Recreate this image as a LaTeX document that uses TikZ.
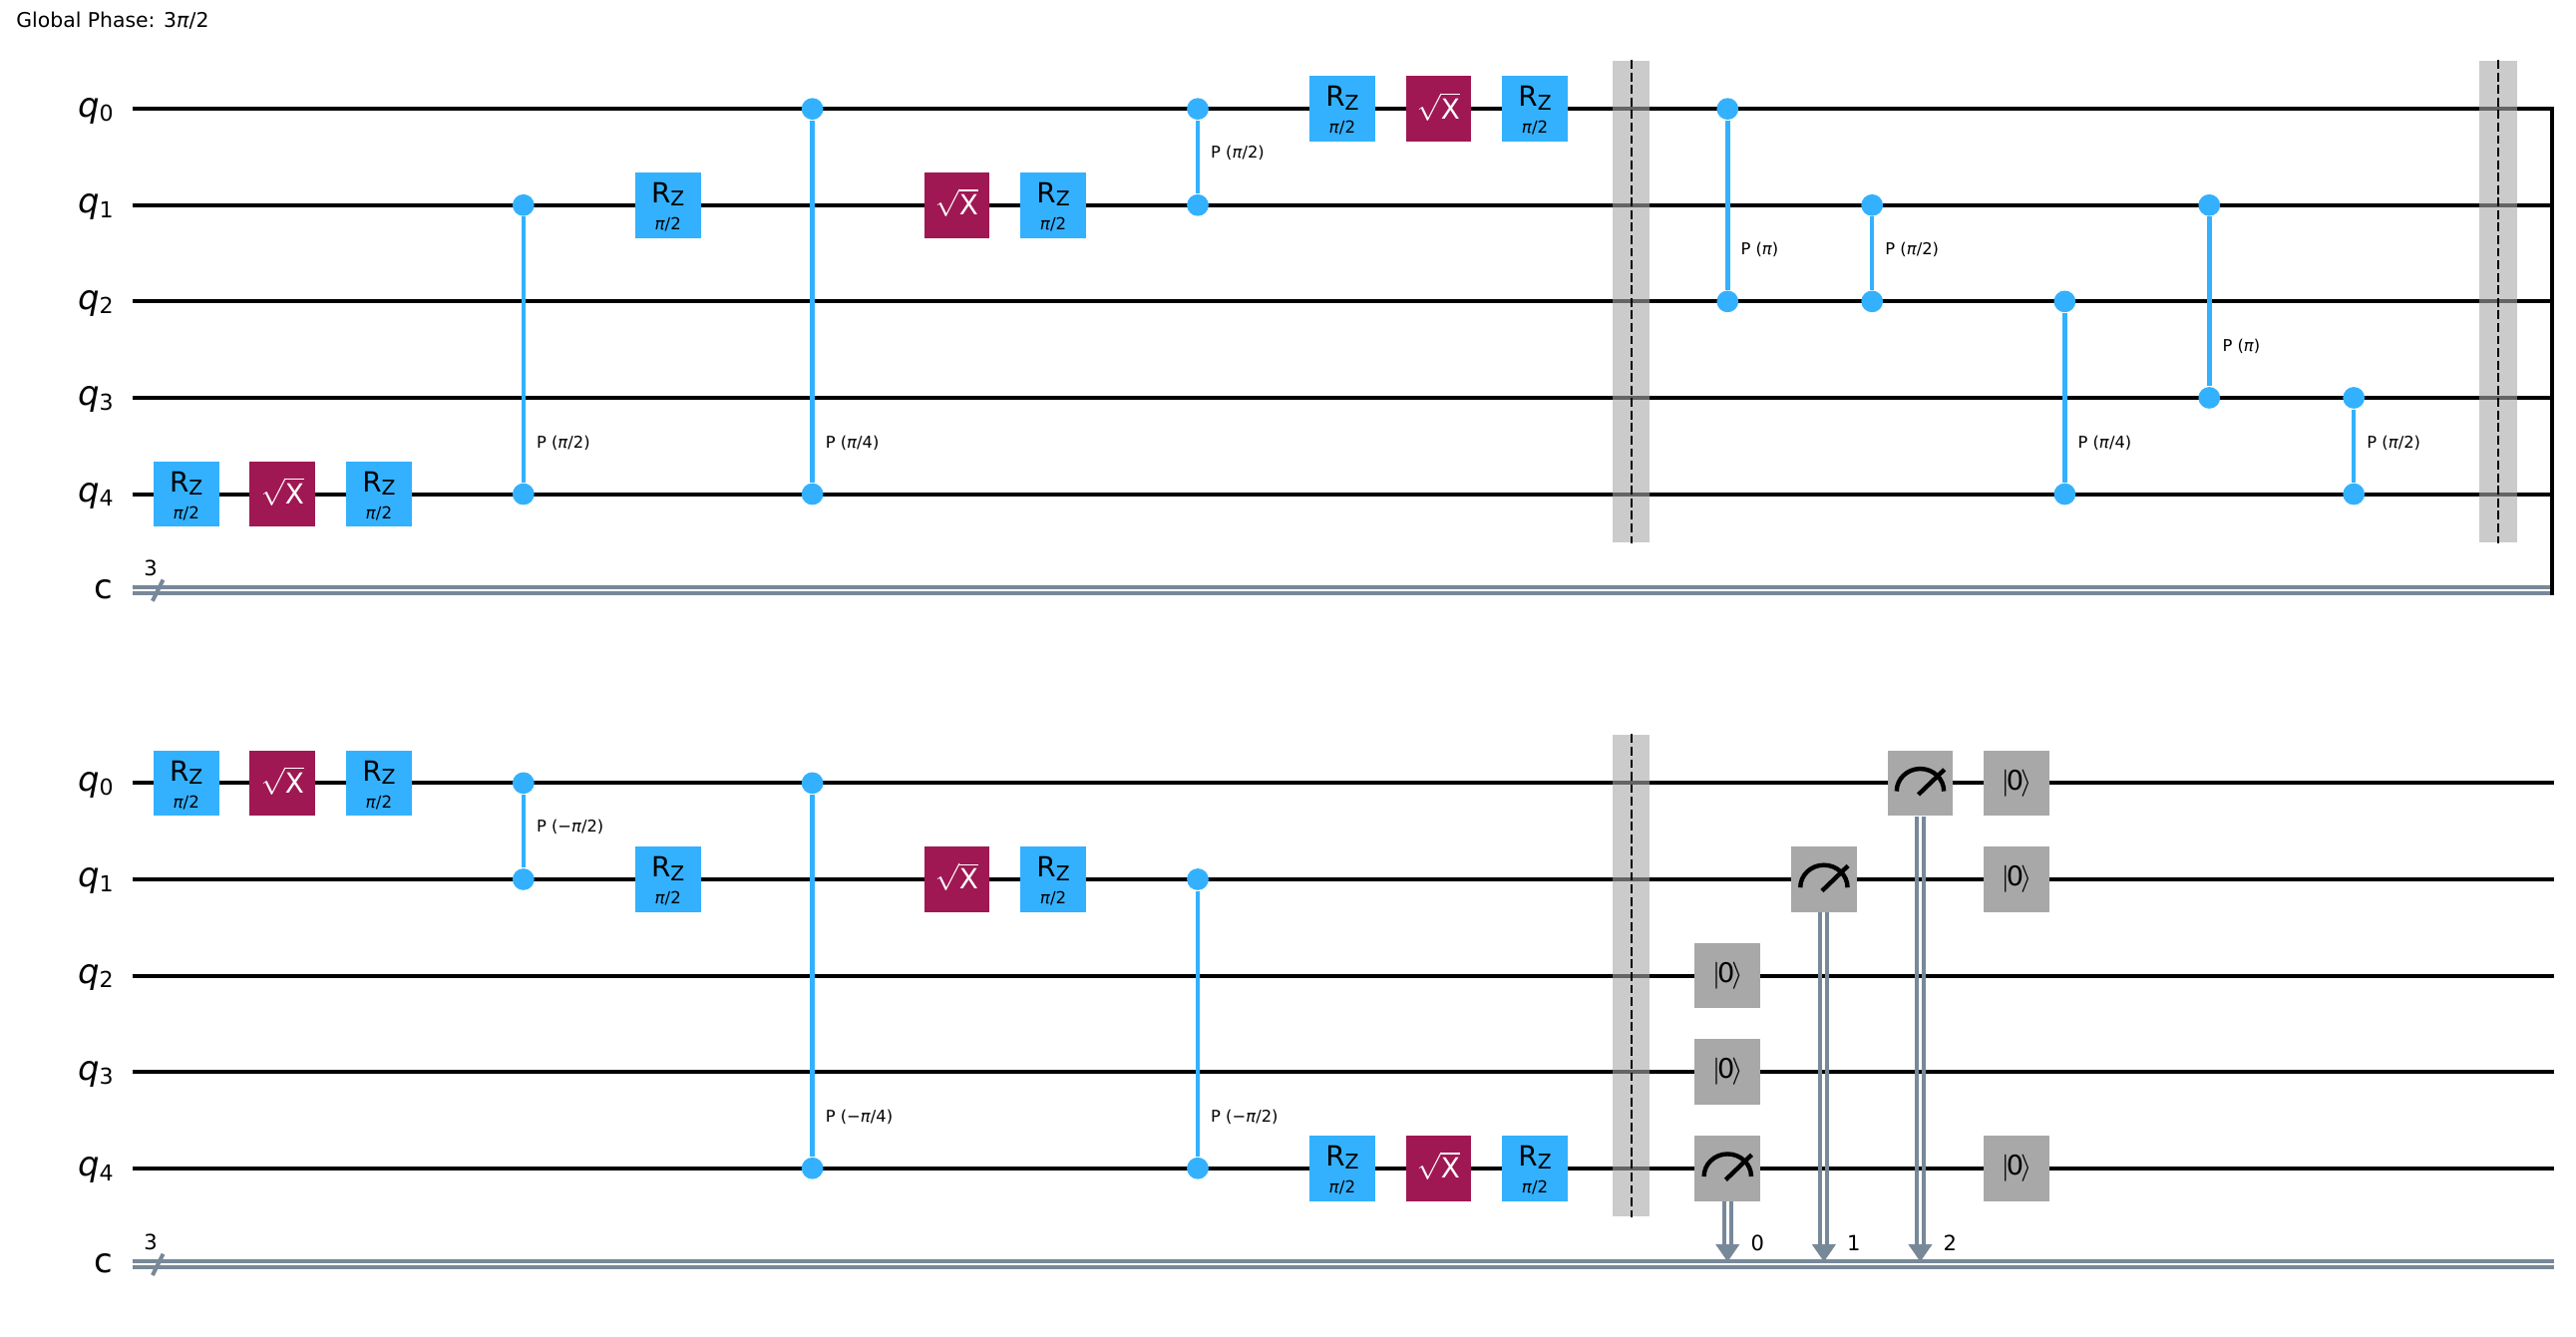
\documentclass[tikz,border=0pt]{standalone}
\usepackage{fontspec}
\setmainfont{DejaVu Sans}
\usetikzlibrary{calc}
\definecolor{qblue}{HTML}{33B1FF}
\definecolor{qmag}{HTML}{9F1853}
\definecolor{qgrey}{HTML}{A8A8A8}
\definecolor{qslate}{HTML}{778899}
\newcommand{\fsize}[1]{\fontsize{#1}{#1}\selectfont}
\newcommand{\qlab}[1]{\textit{q}\raisebox{-1.3pt}{\fsize{6.5}#1}}
\newcommand{\rzlab}{\smash{\makebox[0pt]{\raisebox{0.67pt}{\fsize{8.2}R\raisebox{-1pt}{\fsize{6}Z}}}\makebox[0pt]{\raisebox{-7.3pt}{\fsize{4.9}\textit{π}/2}}}}
\newcommand{\sxlab}{\smash{\makebox[0pt]{\raisebox{-2.9pt}{\color{white}\fsize{8.2}$\sqrt{\hbox{X}}$}}}}
\newcommand{\resetlab}{\fsize{8}$|$\kern-.9pt 0\kern-.9pt$\rangle$}
\newcommand{\dial}[1]{%
  \draw[dialline] ($(#1.center)+(-.245,.085)$) arc[start angle=180,end angle=0,x radius=.245cm,y radius=.233cm];
  \draw[dialline] ($(#1.center)+(-.02,.12)$) -- ($(#1.center)+(.25,-.14)$);}
\newcommand{\measwire}[2]{%
  \draw[cline] ([xshift=-1.03pt]#1.south) -- ([xshift=-1.03pt,yshift=3pt]#2);
  \draw[cline] ([xshift=1.03pt]#1.south) -- ([xshift=1.03pt,yshift=3pt]#2);
  \fill[qslate] ($(#2)+(-.125,-.18)$) -- ($(#2)+(.125,-.18)$) -- (#2) -- cycle;}
\tikzset{
  wire/.style={line width=1.17pt},
  cwire/.style={draw=qslate,line width=1.17pt,double=white,double distance=0.6pt},
  cline/.style={draw=qslate,line width=1.17pt},
  dialline/.style={line width=1.3pt},
  gatebox/.style={minimum width=.68cm,minimum height=.68cm,inner sep=0pt,align=center},
  rzgate/.style={gatebox,fill=qblue},
  sxgate/.style={gatebox,fill=qmag},
  greygate/.style={gatebox,fill=qgrey},
  ctrl/.style={circle,fill=qblue,minimum size=.225cm,inner sep=0pt},
  ctrlline/.style={draw=qblue,line width=1.3pt},
  plab/.style={anchor=west,inner sep=0pt,font=\fsize{4.8}},
  rowlab/.style={anchor=base east,inner sep=0pt,font=\fsize{10}},
  numlab/.style={anchor=base,inner sep=0pt,font=\fsize{6.2}},
  barrier/.style={fill=qgrey,fill opacity=.6,minimum width=.385cm,minimum height=5cm,inner sep=0pt},
  barline/.style={line width=0.55pt,dash pattern=on 2.6pt off 1.1pt}
}
\begin{document}
\begin{tikzpicture}[x=1cm,y=-1cm]
  \useasboundingbox (-1.933,-1.13) rectangle (24.807,12.752);
  \node[anchor=base west,inner sep=0pt,font=\fsize{6}] (phase) at (-1.77,-.85) {Global Phase: 3\textit{π}/2};

  \node[rowlab] (lq0) at (-.75,.083) {\qlab{0}};
  \node[rowlab] (lq1) at (-.75,1.083) {\qlab{1}};
  \node[rowlab] (lq2) at (-.75,2.083) {\qlab{2}};
  \node[rowlab] (lq3) at (-.75,3.083) {\qlab{3}};
  \node[rowlab] (lq4) at (-.75,4.083) {\qlab{4}};
  \node[rowlab] (lc) at (-.75,5.083) {c};
  \node[rowlab] (lr0) at (-.75,7.083) {\qlab{0}};
  \node[rowlab] (lr1) at (-.75,8.083) {\qlab{1}};
  \node[rowlab] (lr2) at (-.75,9.083) {\qlab{2}};
  \node[rowlab] (lr3) at (-.75,10.083) {\qlab{3}};
  \node[rowlab] (lr4) at (-.75,11.083) {\qlab{4}};
  \node[rowlab] (ld) at (-.75,12.083) {c};

  \coordinate (q0a) at (-.56,0);    \coordinate (q0b) at (24.575,0);
  \coordinate (q1a) at (-.56,1);    \coordinate (q1b) at (24.575,1);
  \coordinate (q2a) at (-.56,2);    \coordinate (q2b) at (24.575,2);
  \coordinate (q3a) at (-.56,3);    \coordinate (q3b) at (24.575,3);
  \coordinate (q4a) at (-.56,4);    \coordinate (q4b) at (24.575,4);
  \coordinate (ca) at (-.56,5);     \coordinate (cb) at (24.575,5);
  \coordinate (r0a) at (-.56,7);    \coordinate (r0b) at (24.575,7);
  \coordinate (r1a) at (-.56,8);    \coordinate (r1b) at (24.575,8);
  \coordinate (r2a) at (-.56,9);    \coordinate (r2b) at (24.575,9);
  \coordinate (r3a) at (-.56,10);   \coordinate (r3b) at (24.575,10);
  \coordinate (r4a) at (-.56,11);   \coordinate (r4b) at (24.575,11);
  \coordinate (da) at (-.56,12);    \coordinate (db) at (24.575,12);

  \draw[wire] (q0a) -- (q0b);
  \draw[wire] (q1a) -- (q1b);
  \draw[wire] (q2a) -- (q2b);
  \draw[wire] (q3a) -- (q3b);
  \draw[wire] (q4a) -- (q4b);
  \draw[cwire] (ca) -- (cb);
  \draw[wire] (r0a) -- (r0b);
  \draw[wire] (r1a) -- (r1b);
  \draw[wire] (r2a) -- (r2b);
  \draw[wire] (r3a) -- (r3b);
  \draw[wire] (r4a) -- (r4b);
  \draw[cwire] (da) -- (db);
  \draw[wire] ($(q0b)+(-.015,-.02)$) -- ($(cb)+(-.015,.045)$);

  \coordinate (s1a) at (-.35,5.11);   \coordinate (s1b) at (-.24,4.89);
  \coordinate (s2a) at (-.35,12.11);  \coordinate (s2b) at (-.24,11.89);
  \draw[cline] (s1a) -- (s1b);
  \draw[cline] (s2a) -- (s2b);
  \node[numlab] (n1) at (-.37,4.845) {3};
  \node[numlab] (n2) at (-.37,11.845) {3};

  \node[barrier] (b1) at (15,2) {};
  \node[barrier] (b2) at (24,2) {};
  \node[barrier] (b3) at (15,9) {};
  \draw[barline] (b1.north) -- (b1.south);
  \draw[barline] (b2.north) -- (b2.south);
  \draw[barline] (b3.north) -- (b3.south);

  \node[rzgate] (z1) at (0,4) {\rzlab};
  \node[sxgate] (x1) at (1,4) {\sxlab};
  \node[rzgate] (z2) at (2,4) {\rzlab};
  \node[rzgate] (z3) at (5,1) {\rzlab};
  \node[sxgate] (x2) at (8,1) {\sxlab};
  \node[rzgate] (z4) at (9,1) {\rzlab};
  \node[rzgate] (z5) at (12,0) {\rzlab};
  \node[sxgate] (x3) at (13,0) {\sxlab};
  \node[rzgate] (z6) at (14,0) {\rzlab};
  \node[rzgate] (z7) at (0,7) {\rzlab};
  \node[sxgate] (x4) at (1,7) {\sxlab};
  \node[rzgate] (z8) at (2,7) {\rzlab};
  \node[rzgate] (z9) at (5,8) {\rzlab};
  \node[sxgate] (x5) at (8,8) {\sxlab};
  \node[rzgate] (z10) at (9,8) {\rzlab};
  \node[rzgate] (z11) at (12,11) {\rzlab};
  \node[sxgate] (x6) at (13,11) {\sxlab};
  \node[rzgate] (z12) at (14,11) {\rzlab};

  \node[ctrl] (p1a) at (3.5,1) {};
  \node[ctrl] (p1b) at (3.5,4) {};
  \node[ctrl] (p2a) at (6.5,0) {};
  \node[ctrl] (p2b) at (6.5,4) {};
  \node[ctrl] (p3a) at (10.5,0) {};
  \node[ctrl] (p3b) at (10.5,1) {};
  \node[ctrl] (p4a) at (16,0) {};
  \node[ctrl] (p4b) at (16,2) {};
  \node[ctrl] (p5a) at (17.5,1) {};
  \node[ctrl] (p5b) at (17.5,2) {};
  \node[ctrl] (p6a) at (19.5,2) {};
  \node[ctrl] (p6b) at (19.5,4) {};
  \node[ctrl] (p7a) at (21,1) {};
  \node[ctrl] (p7b) at (21,3) {};
  \node[ctrl] (p8a) at (22.5,3) {};
  \node[ctrl] (p8b) at (22.5,4) {};
  \node[ctrl] (p9a) at (3.5,7) {};
  \node[ctrl] (p9b) at (3.5,8) {};
  \node[ctrl] (p10a) at (6.5,7) {};
  \node[ctrl] (p10b) at (6.5,11) {};
  \node[ctrl] (p11a) at (10.5,8) {};
  \node[ctrl] (p11b) at (10.5,11) {};
  \draw[ctrlline] (p1a) -- (p1b);
  \draw[ctrlline] (p2a) -- (p2b);
  \draw[ctrlline] (p3a) -- (p3b);
  \draw[ctrlline] (p4a) -- (p4b);
  \draw[ctrlline] (p5a) -- (p5b);
  \draw[ctrlline] (p6a) -- (p6b);
  \draw[ctrlline] (p7a) -- (p7b);
  \draw[ctrlline] (p8a) -- (p8b);
  \draw[ctrlline] (p9a) -- (p9b);
  \draw[ctrlline] (p10a) -- (p10b);
  \draw[ctrlline] (p11a) -- (p11b);

  \node[plab] (t1) at (3.63,3.47) {P (\textit{π}/2)};
  \node[plab] (t2) at (6.63,3.47) {P (\textit{π}/4)};
  \node[plab] (t3) at (10.63,.46) {P (\textit{π}/2)};
  \node[plab] (t4) at (16.13,1.46) {P (\textit{π})};
  \node[plab] (t5) at (17.63,1.46) {P (\textit{π}/2)};
  \node[plab] (t6) at (19.63,3.47) {P (\textit{π}/4)};
  \node[plab] (t7) at (21.13,2.47) {P (\textit{π})};
  \node[plab] (t8) at (22.63,3.47) {P (\textit{π}/2)};
  \node[plab] (t9) at (3.63,7.46) {P (−\textit{π}/2)};
  \node[plab] (t10) at (6.63,10.47) {P (−\textit{π}/4)};
  \node[plab] (t11) at (10.63,10.47) {P (−\textit{π}/2)};

  \node[greygate] (k1) at (16,9) {\resetlab};
  \node[greygate] (k2) at (16,10) {\resetlab};
  \node[greygate] (k3) at (19,7) {\resetlab};
  \node[greygate] (k4) at (19,8) {\resetlab};
  \node[greygate] (k5) at (19,11) {\resetlab};

  \node[greygate] (m0) at (16,11) {};
  \node[greygate] (m1) at (17,8) {};
  \node[greygate] (m2) at (18,7) {};
  \dial{m0}
  \dial{m1}
  \dial{m2}
  \coordinate (d0) at (16,11.97);
  \coordinate (d1) at (17,11.97);
  \coordinate (d2) at (18,11.97);
  \measwire{m0}{d0}
  \measwire{m1}{d1}
  \measwire{m2}{d2}
  \node[numlab] (c0) at (16.31,11.856) {0};
  \node[numlab] (c1) at (17.31,11.856) {1};
  \node[numlab] (c2) at (18.31,11.856) {2};
\end{tikzpicture}
\end{document}
